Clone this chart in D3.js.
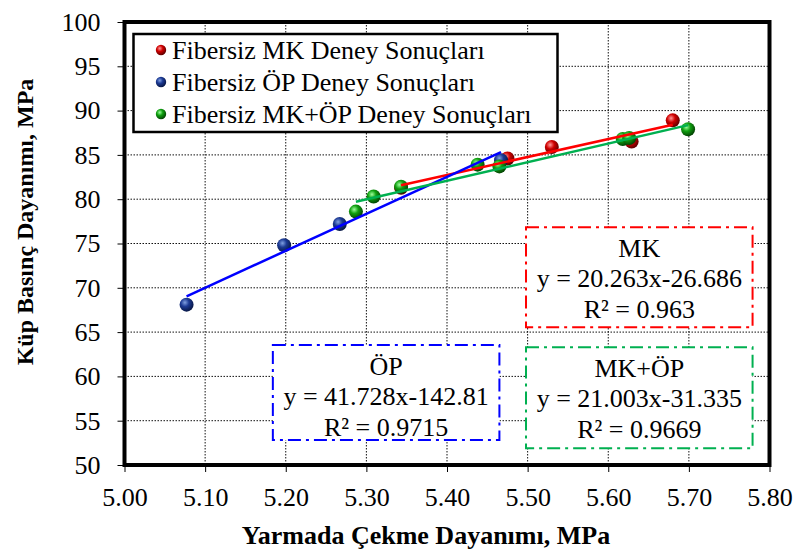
<!DOCTYPE html>
<html><head><meta charset="utf-8">
<script src="https://cdn.jsdelivr.net/npm/d3@7"></script>
<style>body{margin:0;background:#fff}svg{display:block}text{font-family:"Liberation Serif","Times New Roman","DejaVu Serif",serif !important;fill:#000}</style>
</head><body><svg id="c" width="796" height="554"></svg>
<script>
const mkX = [5.343, 5.475, 5.530, 5.629, 5.680];
const mkY = [81.3, 84.6, 85.9, 86.5, 88.9];
const opX = [5.077, 5.198, 5.267, 5.467];
const opY = [68.1, 74.8, 77.2, 84.4];
const mkopX = [5.287, 5.309, 5.343, 5.438, 5.465, 5.618, 5.626, 5.699];
const mkopY = [78.6, 80.3, 81.4, 83.9, 83.7, 86.8, 86.9, 87.9];
const seriesNames = ["Fibersiz MK Deney Sonuçları", "Fibersiz ÖP Deney Sonuçları", "Fibersiz MK+ÖP Deney Sonuçları"];
const fitSlopes = [20.263, 41.728, 21.003];
const fitIntercepts = [-26.686, -142.81, -31.335];
const fitLabels = ["MK", "ÖP", "MK+ÖP"];
const fitEquations = ["y = 20.263x-26.686", "y = 41.728x-142.81", "y = 21.003x-31.335"];
const fitR2 = ["R² = 0.963", "R² = 0.9715", "R² = 0.9669"];
const xTicks = [5.0, 5.1, 5.2, 5.3, 5.4, 5.5, 5.6, 5.7, 5.8];
const yTicks = [50, 55, 60, 65, 70, 75, 80, 85, 90, 95, 100];
const xTitle = "Yarmada Çekme Dayanımı, MPa";
const yTitle = "Küp Basınç Dayanımı, MPa";

const FONT = "'Liberation Serif','Times New Roman','DejaVu Serif',serif";
const svg = d3.select("#c");
const L = 124.5, R = 769.5, T = 22, B = 465;
const x = d3.scaleLinear().domain([5.0, 5.8]).range([L, R]);
const y = d3.scaleLinear().domain([50, 100]).range([B, T]);

const colors = [
  {base:"#d00000", light:"#ff9a9a", dark:"#600000", line:"#ff0000"},
  {base:"#1c3a94", light:"#7f9fe0", dark:"#081847", line:"#0000ff"},
  {base:"#10a010", light:"#9cff9c", dark:"#034503", line:"#00b050"}
];
const defs = svg.append("defs");
colors.forEach((c,i)=>{
  const g = defs.append("radialGradient").attr("id","g"+i).attr("cx","38%").attr("cy","35%").attr("r","65%");
  g.append("stop").attr("offset","0%").attr("stop-color",c.light);
  g.append("stop").attr("offset","45%").attr("stop-color",c.base);
  g.append("stop").attr("offset","100%").attr("stop-color",c.dark);
});

// grid
const grid = svg.append("g");
grid.selectAll(".gx").data(xTicks.slice(1,-1)).join("line")
  .attr("x1",d=>x(d)).attr("x2",d=>x(d)).attr("y1",T).attr("y2",B)
  .attr("stroke","#111").attr("stroke-width",1).attr("stroke-dasharray","1.5,1.5");
grid.selectAll(".gy").data(yTicks.slice(1,-1)).join("line")
  .attr("y1",d=>y(d)).attr("y2",d=>y(d)).attr("x1",L).attr("x2",R)
  .attr("stroke","#111").attr("stroke-width",1).attr("stroke-dasharray","1.5,1.5");

// axes
const xAxis = d3.axisBottom(x).tickValues(xTicks).tickFormat(d3.format(".2f")).tickSize(7).tickPadding(16);
const gx = svg.append("g").attr("transform",`translate(0,${B})`).call(xAxis);
gx.select(".domain").remove();
gx.selectAll("text").attr("font-size",26);
const yAxis = d3.axisLeft(y).tickValues(yTicks).tickSize(7).tickPadding(17);
const gy = svg.append("g").attr("transform",`translate(${L},0)`).call(yAxis);
gy.select(".domain").remove();
gy.selectAll("text").attr("font-size",26);

// annotation boxes (value-space corners)
const boxX0 = [5.498, 5.184, 5.498];
const boxX1 = [5.779, 5.465, 5.779];
const boxYTop = [76.83, 63.54, 63.28];
const boxYBot = [65.54, 52.82, 51.88];
[0,1,2].forEach(i=>{
  const g = svg.append("g");
  const bx = x(boxX0[i]), bw = x(boxX1[i])-bx, by = y(boxYTop[i]), bh = y(boxYBot[i])-by;
  g.append("rect").attr("x",bx).attr("y",by).attr("width",bw).attr("height",bh)
    .attr("fill","#fff").attr("stroke",colors[i].line).attr("stroke-width",2)
    .attr("stroke-dasharray","13,5,3,5");
  const cx = bx + bw/2;
  [fitLabels[i], fitEquations[i], fitR2[i]].forEach((t,k)=>{
    g.append("text").attr("x",cx).attr("y",by+21+k*30.5).attr("text-anchor","middle")
      .attr("dominant-baseline","central").attr("font-size",26).text(t);
  });
});

// points
const series = [[mkX,mkY],[opX,opY],[mkopX,mkopY]];
series.forEach((s,i)=>{
  svg.append("g").selectAll("circle").data(s[0].map((v,k)=>[v,s[1][k]])).join("circle")
    .attr("cx",d=>x(d[0])).attr("cy",d=>y(d[1])).attr("r",7).attr("fill",`url(#g${i})`);
});
// trend lines
series.forEach((s,i)=>{
  const x0 = d3.min(s[0]), x1 = d3.max(s[0]);
  svg.append("line").attr("x1",x(x0)).attr("y1",y(fitSlopes[i]*x0+fitIntercepts[i]))
    .attr("x2",x(x1)).attr("y2",y(fitSlopes[i]*x1+fitIntercepts[i]))
    .attr("stroke",colors[i].line).attr("stroke-width",2.5);
});

// frame
svg.append("rect").attr("x",L).attr("y",T).attr("width",R-L).attr("height",B-T)
  .attr("fill","none").attr("stroke","#000").attr("stroke-width",4);

// legend
const lg = svg.append("g");
lg.append("rect").attr("x",133.5).attr("y",34).attr("width",424).attr("height",98)
  .attr("fill","#fff").attr("stroke","#000").attr("stroke-width",2.5);
seriesNames.forEach((n,i)=>{
  const cy = 50 + i*32;
  lg.append("circle").attr("cx",161).attr("cy",cy).attr("r",5.2).attr("fill",`url(#g${i})`);
  lg.append("text").attr("x",172).attr("y",cy).attr("dominant-baseline","central").attr("font-size",26).text(n);
});

// titles
svg.append("text").attr("x",426).attr("y",544).attr("text-anchor","middle")
  .attr("font-size",26).attr("font-weight","bold").text(xTitle);
svg.append("text").attr("transform",`translate(33,222) rotate(-90)`).attr("text-anchor","middle")
  .attr("font-size",24).attr("font-weight","bold").text(yTitle);

svg.selectAll("text").style("font-family", FONT);
</script></body></html>
